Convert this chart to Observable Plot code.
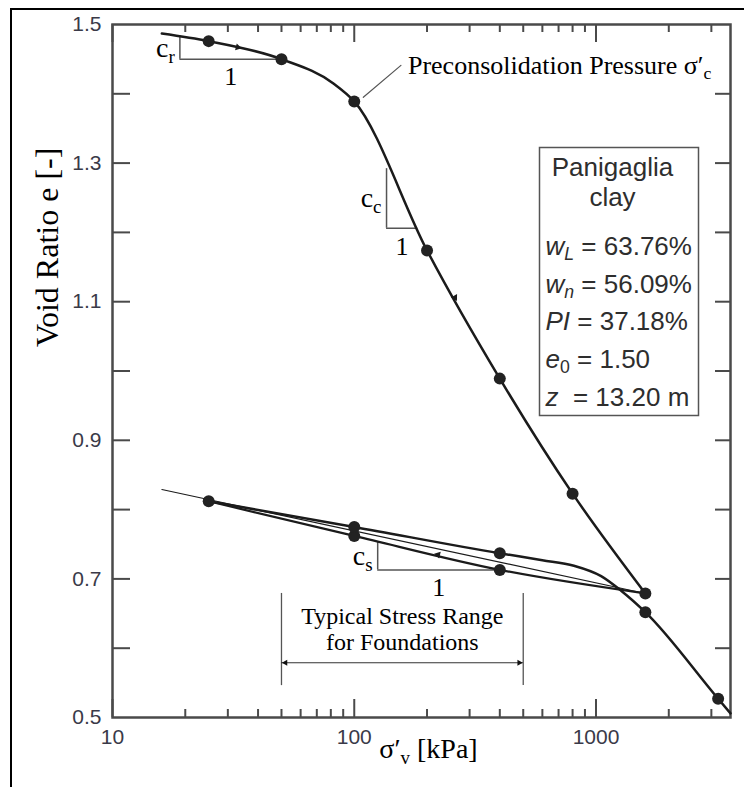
<!DOCTYPE html>
<html>
<head>
<meta charset="utf-8">
<script src="https://cdn.jsdelivr.net/npm/d3@7"></script>
<script src="https://cdn.jsdelivr.net/npm/@observablehq/plot@0.6"></script>
<style>
  html, body { margin: 0; padding: 0; background: #fff; }
  #wrap { position: relative; width: 744px; height: 787px; overflow: hidden; }
  #chart { position: absolute; left: 0; top: 0; }
  #border { position: absolute; left: 10px; top: 8px; width: 800px; height: 800px;
            border-left: 2px solid #000; border-top: 2px solid #000; pointer-events: none; }
</style>
</head>
<body>
<div id="wrap"><div id="chart"></div><div id="border"></div></div>
<script>
// Oedometer test, Panigaglia clay: vertical effective stress (kPa) vs void ratio
const loadingStress = [25, 50, 100, 200, 400, 800, 1600];
const loadingVoid   = [1.476, 1.450, 1.389, 1.174, 0.989, 0.823, 0.679];
const unloadingStress = [400, 100, 25];
const unloadingVoid   = [0.713, 0.762, 0.812];
const reloadingStress = [100, 400, 1600, 3200];
const reloadingVoid   = [0.775, 0.737, 0.652, 0.527];

// Traced compression, unloading and reloading curves
const loadingCurveStress = [16, 25, 50, 82, 100, 200, 400, 800, 1600];
const loadingCurveVoid   = [1.487, 1.476, 1.450, 1.415, 1.389, 1.174, 0.989, 0.823, 0.679];
const unloadingCurveStress = [25, 100, 400, 1600];
const unloadingCurveVoid   = [0.812, 0.762, 0.713, 0.679];
const reloadingCurveStress = [25, 100, 400, 600, 810, 1050, 1270, 1600, 3200, 3600];
const reloadingCurveVoid   = [0.812, 0.775, 0.737, 0.727, 0.719, 0.704, 0.683, 0.652, 0.527, 0.506];
const swellingLineStress = [16, 1600];
const swellingLineVoid   = [0.829, 0.679];

// Direction of the stress path
const flowStress = [33, 261, 222];
const flowVoid   = [1.467, 1.106, 0.735];

// Slope triangles for the recompression, compression and swelling indices
const slopeNames = ["c_r", "c_c", "c_s"];
const slopeLeft  = [19, 136, 125];
const slopeRight = [50, 183, 400];
const slopeTop   = [1.483, 1.292, 0.754];
const slopeBase  = [1.450, 1.206, 0.713];

// Preconsolidation pressure callout
const preconLeaderStress = [109, 156];
const preconLeaderVoid   = [1.395, 1.441];
const preconText = "Preconsolidation Pressure σ′_c";

// Typical stress range for foundations
const rangeStress = [50, 500];
const rangeArrowVoid = 0.579;
const rangeBarVoid = [0.546, 0.679];
const rangeText = ["Typical Stress Range", "for Foundations"];
const rangeTextVoid = [0.646, 0.608];

// Soil description
const soilName = ["Panigaglia", "clay"];
const propertySymbols = ["*w*_{*L*}", "*w*_{*n*}", "*PI*", "*e*_0", "*z*\u00a0"];
const propertyValues  = ["63.76%", "56.09%", "37.18%", "1.50", "13.20 m"];

// Axes
const xMajorTicks = [10, 100, 1000];
const xMinorTicks = [20, 30, 40, 50, 60, 70, 80, 90, 200, 300, 400, 500, 600, 700, 800, 900, 2000, 3000];
const yTickLabels = [0.5, 0.7, 0.9, 1.1, 1.3, 1.5];
const yTicks = [0.6, 0.7, 0.8, 0.9, 1.0, 1.1, 1.2, 1.3, 1.4];
const xDomain = [10, 3600];
const yDomain = [0.5, 1.5];
const xTitle = "σ′_v [kPa]";
const yTitle = "Void Ratio e [-]";

// ---- layout & style ----
const W = 744, H = 787;
const M = {left: 112, right: 14, top: 24, bottom: 70};
const innerW = W - M.left - M.right;
const innerH = H - M.top - M.bottom;
const axisColor = "#4a4a4a";
const tickLabelColor = "#3a3a48";
const ink = "#1b1b1b";
const guide = "#555";
const serif = "'Liberation Serif', 'Times New Roman', serif";
const sans = "'Liberation Sans', Arial, sans-serif";

const pts = (s, e) => s.map((x, i) => ({s: x, e: e[i]}));
const loadingPts = pts(loadingStress, loadingVoid);
const unloadingPts = pts(unloadingStress, unloadingVoid);
const reloadingPts = pts(reloadingStress, reloadingVoid);
const allPts = [...loadingPts, ...unloadingPts, ...reloadingPts];
const flowPts = pts(flowStress, flowVoid);
const flowAngles = [104, 151, 283];

const slopes = slopeNames.map((name, i) => ({
  name, left: slopeLeft[i], right: slopeRight[i], top: slopeTop[i], base: slopeBase[i],
  mid: (slopeTop[i] + slopeBase[i]) / 2, run: Math.sqrt(slopeLeft[i] * slopeRight[i])
}));

const curve = (s, e, w) => Plot.line(pts(s, e), {x: "s", y: "e", curve: "monotone-x", stroke: ink, strokeWidth: w});

const legendMarks = [
  Plot.frame({insetLeft: 427, insetRight: 32, insetTop: 123, insetBottom: 302, stroke: guide, strokeWidth: 1.5}),
  ...soilName.map((t, i) => Plot.text([t], {frameAnchor: "top-left", dx: 500, dy: 143 + i * 30,
    textAnchor: "middle", lineAnchor: "middle", fontFamily: sans, fontSize: 26, fill: "#2e2e2e"})),
  ...propertySymbols.map((sym, i) => Plot.text([`${sym} = ${propertyValues[i]}`], {frameAnchor: "top-left",
    dx: 433, dy: 222 + i * 37.7, textAnchor: "start", lineAnchor: "middle", fontFamily: sans, fontSize: 26, fill: "#2e2e2e"}))
];

const plot = Plot.plot({
  width: W, height: H,
  marginLeft: M.left, marginRight: M.right, marginTop: M.top, marginBottom: M.bottom,
  x: {type: "log", domain: xDomain, axis: null},
  y: {domain: yDomain, axis: null},
  style: {fontFamily: sans, fontSize: "21px", background: "transparent", overflow: "visible"},
  marks: [
    // inward ticks on all four sides
    Plot.ruleX(xMajorTicks, {x: d => d, insetTop: innerH - 18, stroke: axisColor, strokeWidth: 2}),
    Plot.ruleX(xMinorTicks, {x: d => d, insetTop: innerH - 8, stroke: axisColor, strokeWidth: 2}),
    Plot.ruleX(xMajorTicks, {x: d => d, insetBottom: innerH - 18, stroke: axisColor, strokeWidth: 2}),
    Plot.ruleX(xMinorTicks, {x: d => d, insetBottom: innerH - 8, stroke: axisColor, strokeWidth: 2}),
    Plot.ruleY(yTicks, {y: d => d, insetRight: innerW - 18, stroke: axisColor, strokeWidth: 2}),
    Plot.ruleY(yTicks, {y: d => d, insetLeft: innerW - 15, stroke: axisColor, strokeWidth: 2}),
    Plot.frame({stroke: axisColor, strokeWidth: 2.5}),

    // tick labels
    Plot.text(xMajorTicks, {x: d => d, frameAnchor: "bottom", dy: 20, text: d => String(d),
      fill: tickLabelColor, fontFamily: sans, fontSize: 21, lineAnchor: "middle"}),
    Plot.text(yTickLabels, {y: d => d, frameAnchor: "left", dx: -11, text: d => d.toFixed(1),
      textAnchor: "end", lineAnchor: "middle", fill: tickLabelColor, fontFamily: sans, fontSize: 21}),

    // axis titles
    Plot.text([yTitle], {frameAnchor: "left", dx: -65, dy: -24, rotate: -90, fontFamily: serif, fontSize: 32, fill: "#000"}),
    Plot.text([xTitle], {frameAnchor: "bottom", dx: 7, dy: 40, fontFamily: serif, fontSize: 28, fill: "#000"}),

    // stress range for foundations
    Plot.ruleX(rangeStress, {x: d => d, y1: rangeBarVoid[0], y2: rangeBarVoid[1], stroke: guide, strokeWidth: 1.3}),
    Plot.ruleY([rangeArrowVoid], {y: d => d, x1: rangeStress[0], x2: rangeStress[1], stroke: "#333", strokeWidth: 1}),
    Plot.dot([rangeStress[0]], {x: d => d, y: () => rangeArrowVoid, symbol: "triangle", r: 2.3, rotate: -90, dx: 4, fill: "#111", stroke: "none"}),
    Plot.dot([rangeStress[1]], {x: d => d, y: () => rangeArrowVoid, symbol: "triangle", r: 2.3, rotate: 90, dx: -4, fill: "#111", stroke: "none"}),
    Plot.text(rangeText, {x: () => Math.sqrt(rangeStress[0] * rangeStress[1]), y: (d, i) => rangeTextVoid[i],
      text: d => d, fontFamily: serif, fontSize: 24, fill: "#000", lineAnchor: "middle"}),

    // slope triangles
    Plot.ruleX(slopes, {x: "left", y1: "top", y2: "base", stroke: guide, strokeWidth: 1.5}),
    Plot.ruleY(slopes, {y: "base", x1: "left", x2: "right", stroke: guide, strokeWidth: 1.5}),
    Plot.text(slopes, {x: "left", y: "mid", text: "name", textAnchor: "end", dx: -5, lineAnchor: "middle",
      fontFamily: serif, fontSize: 28, fill: "#000"}),
    Plot.text(slopes, {x: "run", y: "base", text: () => "1", dy: 18, lineAnchor: "middle",
      fontFamily: serif, fontSize: 26, fill: "#000"}),

    // preconsolidation callout
    Plot.line(pts(preconLeaderStress, preconLeaderVoid), {x: "s", y: "e", stroke: guide, strokeWidth: 1.2}),
    Plot.text([preconText], {x: () => preconLeaderStress[1], y: () => preconLeaderVoid[1], dx: 7, textAnchor: "start",
      lineAnchor: "middle", fontFamily: serif, fontSize: 26, fill: "#000"}),

    // curves
    Plot.line(pts(swellingLineStress, swellingLineVoid), {x: "s", y: "e", stroke: ink, strokeWidth: 1.1}),
    curve(unloadingCurveStress, unloadingCurveVoid, 2.2),
    curve(reloadingCurveStress, reloadingCurveVoid, 2.5),
    curve(loadingCurveStress, loadingCurveVoid, 2.5),
    Plot.dot(flowPts, {x: "s", y: "e", symbol: "triangle", r: 2.6, rotate: (d, i) => flowAngles[i], fill: ink, stroke: "none"}),
    Plot.dot(allPts, {x: "s", y: "e", r: 6, fill: "#222", stroke: "none"}),

    ...legendMarks
  ]
});

document.getElementById("chart").appendChild(plot);

// Subscript (_x or _{...}) and italic (*...*) markup inside text labels
(function richText(svg) {
  const NS = "http://www.w3.org/2000/svg";
  svg.querySelectorAll("text").forEach(t => {
    if (t.children.length) return;
    const s = t.textContent;
    if (!/[_*]/.test(s)) return;
    const fs = parseFloat(getComputedStyle(t).fontSize) || 17;
    const parts = s.split(/(\*[^*]+\*|_\{[^}]+\}|_[^\s{])/).filter(p => p);
    t.textContent = "";
    for (const p of parts) {
      const ts = document.createElementNS(NS, "tspan");
      let c = p;
      if (p[0] === "_") {
        c = p[1] === "{" ? p.slice(2, -1) : p.slice(1);
        ts.setAttribute("font-size", (fs * 0.68).toFixed(1));
        ts.setAttribute("baseline-shift", (-fs * 0.2).toFixed(1));
      }
      if (c.length > 2 && c[0] === "*" && c[c.length - 1] === "*") {
        c = c.slice(1, -1);
        ts.setAttribute("font-style", "italic");
      }
      ts.textContent = c;
      t.appendChild(ts);
    }
  });
})(plot);
</script>
</body>
</html>
